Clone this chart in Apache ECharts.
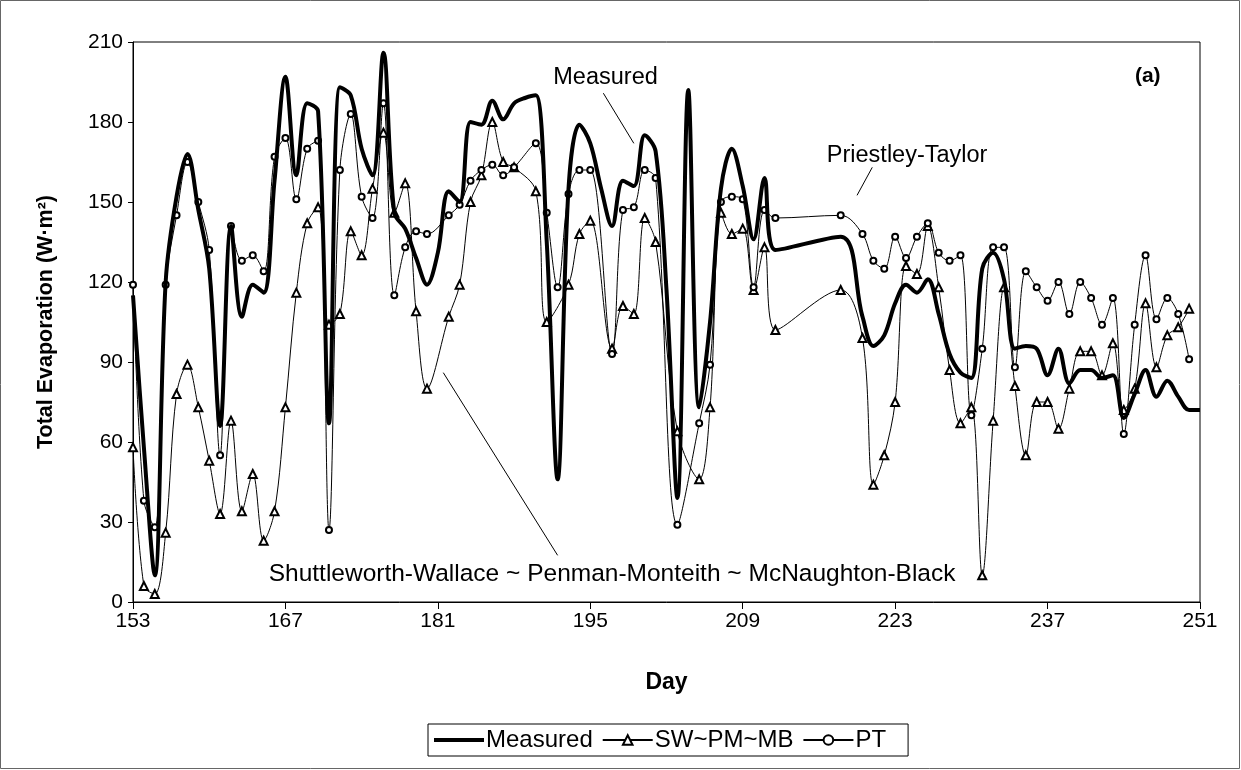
<!DOCTYPE html>
<html>
<head>
<meta charset="utf-8">
<script src="https://cdn.jsdelivr.net/npm/echarts@6/dist/echarts.min.js"></script>
<style>
html,body{margin:0;padding:0;background:#fff;}
#chart{width:1241px;height:770px;}
</style>
</head>
<body>
<div id="chart"></div>
<script>
// Days 153..251
const days = [];
for (let d = 153; d <= 251; d++) days.push(d);

const measured = [
115,58,10,120,152,168,147,125,66,141,107,119,116,158,197,160,187,184,67,193,
190,170,160,206,146,140,129,119,131,154,150,180,179,188,181,187,189,190,135,46,
155,179,172,155,141,158,156,175,169,117,39,192,73,105,155,170,156,136,159,132,
null,null,null,null,null,137,null,107,96,100,112,119,116,121,108,93,86,84,125,131,
121,95,96,95,85,95,82,87,87,84,85,69,78,87,77,83,77,72,72];

const swpmmb = [
58,6,3,26,78,89,73,53,33,68,34,48,23,34,73,116,142,148,104,108,
139,130,155,176,146,157,109,80,null,107,119,150,160,180,165,163,null,154,105,null,
119,138,143,null,95,111,108,144,135,null,64,null,46,73,146,138,140,117,133,102,
null,null,null,null,null,117,null,99,44,55,75,126,123,141,118,87,67,73,10,68,
118,81,55,75,75,65,80,94,94,85,97,72,80,112,88,100,103,110,null];

const pt = [
119,38,28,119,145,165,150,132,55,141,128,130,124,167,174,151,170,173,27,162,
183,152,144,187,115,133,139,138,null,145,149,158,162,164,160,163,null,172,146,118,
153,162,162,null,93,147,148,162,159,null,29,null,67,89,150,152,151,118,147,144,
null,null,null,null,null,145,null,138,128,125,137,129,137,142,131,128,130,70,95,133,
133,88,124,118,113,120,108,120,114,104,114,63,104,130,106,114,108,91,null];

const xTicks = [153,167,181,195,209,223,237,251];
const yTicks = [0,30,60,90,120,150,180,210];

// annotations in data space: text centre, leader line from / to
const annotations = [
  {text:'Measured', at:[196.4,196.5], from:[196.2,190.8], to:[199.0,172.0], bold:false, size:23.5},
  {text:'Priestley-Taylor', at:[224.1,167.6], from:[220.9,163.0], to:[219.5,152.5], bold:false, size:23.5},
  {text:'Shuttleworth-Wallace ~ Penman-Monteith ~ McNaughton-Black', at:[197.0,10.5], from:[181.5,86.0], to:[192.0,17.5], bold:false, size:24.5},
  {text:'(a)', at:[246.2,197.2], from:null, to:null, bold:true, size:21}
];

const pair = arr => days.map((d,i)=>[d, arr[i]]);
const FONT = "'Liberation Sans', Arial, sans-serif";

const chart = echarts.init(document.getElementById('chart'));
chart.setOption({
  animation:false,
  backgroundColor:'#fff',
  textStyle:{fontFamily:FONT, color:'#000'},
  grid:{left:133, top:42, width:1067, height:560, show:true, borderColor:'#000', borderWidth:1, backgroundColor:'transparent'},
  xAxis:{
    type:'value', min:153, max:251, interval:14,
    name:'Day', nameLocation:'middle', nameGap:69,
    nameTextStyle:{fontFamily:FONT, fontSize:23, fontWeight:'bold', color:'#000'},
    axisLine:{lineStyle:{color:'#000', width:1}},
    axisTick:{show:true, length:7, inside:false, lineStyle:{color:'#000'}},
    axisLabel:{fontFamily:FONT, fontSize:21, color:'#000', margin:9},
    splitLine:{show:false}
  },
  yAxis:{
    type:'value', min:0, max:210, interval:30,
    name:'Total Evaporation (W·m²)', nameLocation:'middle', nameGap:76, nameRotate:90,
    nameTextStyle:{fontFamily:FONT, fontSize:21.5, fontWeight:'bold', color:'#000'},
    axisLine:{show:true, lineStyle:{color:'#000', width:1}},
    axisTick:{show:true, length:5, lineStyle:{color:'#000'}},
    axisLabel:{fontFamily:FONT, fontSize:21, color:'#000', margin:10},
    splitLine:{show:false}
  },
  legend:{
    left:428, top:724, orient:'horizontal',
    data:[
      {name:'Measured', icon:'path://M0,0H50V4H0Z'},
      {name:'SW~PM~MB'},
      {name:'PT'}
    ],
    itemWidth:50, itemHeight:12, itemGap:9,
    padding:[4,22,4,6],
    borderColor:'#000', borderWidth:1,
    textStyle:{fontFamily:FONT, fontSize:24, color:'#000', padding:[0,0,0,-3]}
  },
  series:[
    {name:'Measured', type:'line', data:pair(measured), smooth:0.35, connectNulls:true,
     showSymbol:false, symbol:'none', lineStyle:{color:'#000', width:4}, itemStyle:{color:'#000'}, z:3},
    {name:'SW~PM~MB', type:'line', data:pair(swpmmb), smooth:0.35, connectNulls:true,
     symbol:'emptyTriangle', symbolSize:8, showAllSymbol:true,
     lineStyle:{color:'#000', width:1}, itemStyle:{color:'#000', borderColor:'#000', borderWidth:1}, z:2},
    {name:'PT', type:'line', data:pair(pt), smooth:0.35, connectNulls:true,
     symbol:'emptyCircle', symbolSize:6, showAllSymbol:true,
     lineStyle:{color:'#000', width:1}, itemStyle:{color:'#000', borderColor:'#000', borderWidth:1}, z:2}
  ]
});

// annotations placed through the chart's own coordinate conversion
const g = [{type:'rect', shape:{x:0.5,y:0.5,width:1239,height:768}, style:{fill:'none', stroke:'#666', lineWidth:1}, silent:true}];
annotations.forEach(a=>{
  const p = chart.convertToPixel({gridIndex:0}, a.at);
  g.push({type:'text', x:p[0], y:p[1], style:{text:a.text, fontFamily:FONT, fontSize:a.size, fontWeight:a.bold?'bold':'normal', fill:'#000', align:'center', verticalAlign:'middle'}, silent:true, z:10});
  if (a.from) {
    const f = chart.convertToPixel({gridIndex:0}, a.from);
    const t = chart.convertToPixel({gridIndex:0}, a.to);
    g.push({type:'line', shape:{x1:f[0],y1:f[1],x2:t[0],y2:t[1]}, style:{stroke:'#000', lineWidth:1}, silent:true, z:10});
  }
});
chart.setOption({graphic:g});
</script>
</body>
</html>
